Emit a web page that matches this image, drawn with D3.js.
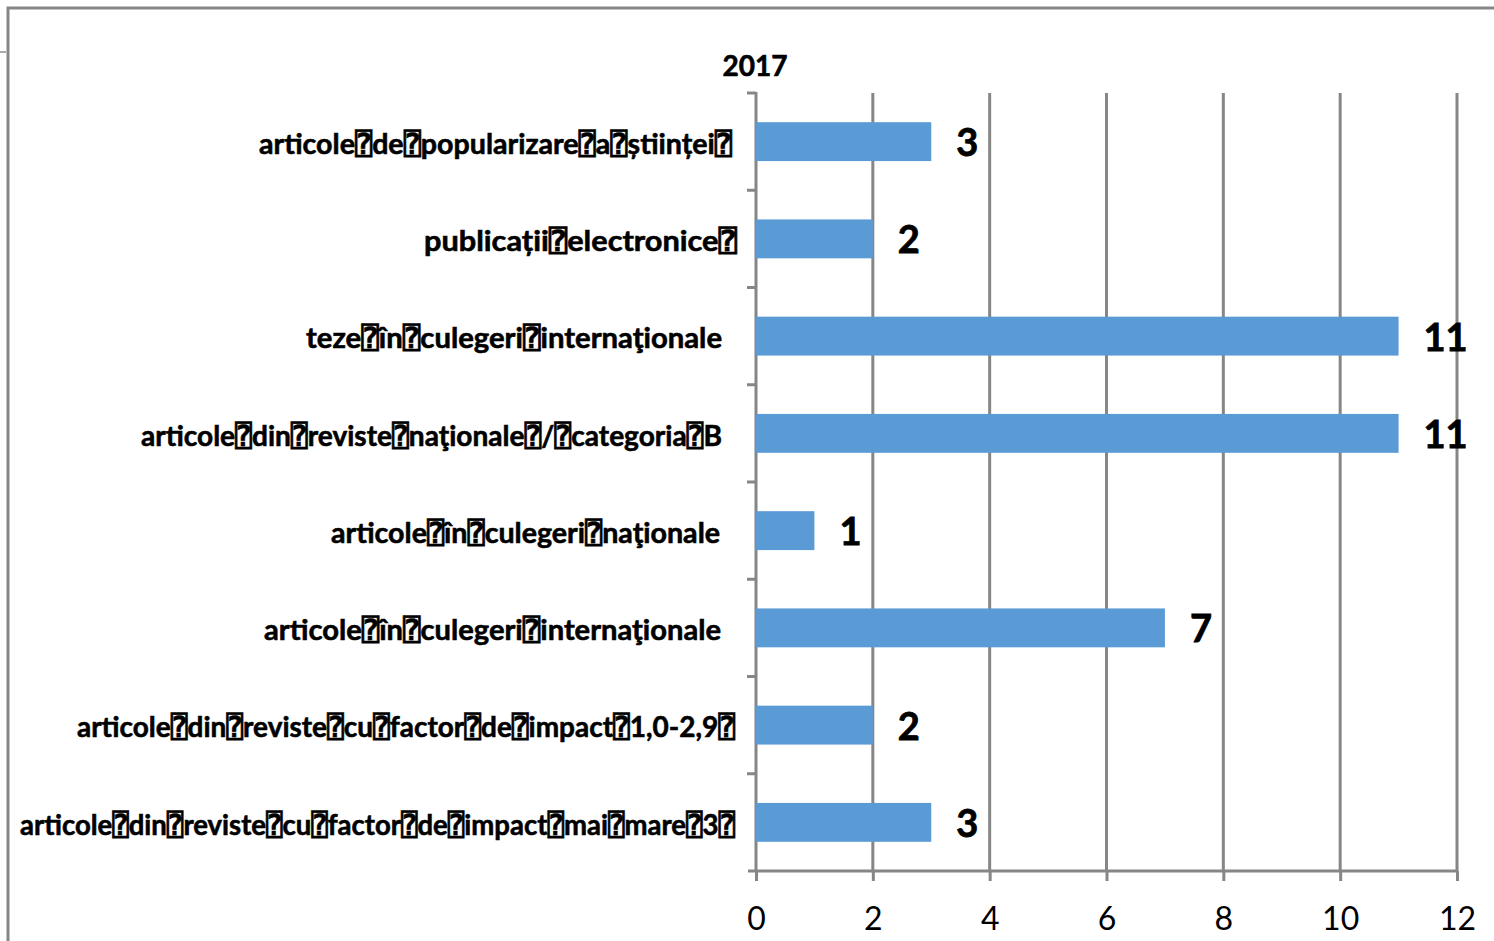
<!DOCTYPE html>
<html><head><meta charset="utf-8">
<script src="https://cdn.jsdelivr.net/npm/d3@7"></script>
<style>body{margin:0;background:#fff;}svg{display:block;}</style>
</head><body>
<svg id="c" width="1494" height="941"></svg>
<script>
const B = "\u2370";
const categories = [
  "articole" + B + "de" + B + "popularizare" + B + "a" + B + "științei" + B,
  "publicații" + B + "electronice" + B,
  "teze" + B + "în" + B + "culegeri" + B + "internaţionale",
  "articole" + B + "din" + B + "reviste" + B + "naţionale" + B + "/" + B + "categoria" + B + "B",
  "articole" + B + "în" + B + "culegeri" + B + "naţionale",
  "articole" + B + "în" + B + "culegeri" + B + "internaţionale",
  "articole" + B + "din" + B + "reviste" + B + "cu" + B + "factor" + B + "de" + B + "impact" + B + "1,0-2,9" + B,
  "articole" + B + "din" + B + "reviste" + B + "cu" + B + "factor" + B + "de" + B + "impact" + B + "mai" + B + "mare" + B + "3" + B
];
const values = [3, 2, 11, 11, 1, 7, 2, 3];
const xTicks = [0, 2, 4, 6, 8, 10, 12];
const title = "2017";
// label extents measured from reference (left edge of each label)
const labelLeft = [259, 424, 306, 141, 331, 264, 77, 20];
const labelRight = [732, 737, 722, 722, 720, 721, 735, 735];

const svg = d3.select("#c");
const gray = "#868686";
const x = d3.scaleLinear().domain([0, 12]).range([756, 1457]);
const y = d3.scaleBand().domain(categories).range([93, 871]).paddingInner(0.6).paddingOuter(0.3);

// outer frame
svg.append("path").attr("d", "M8,941V8H1494").attr("fill", "none").attr("stroke", gray).attr("stroke-width", 3);
svg.append("line").attr("x1", 0).attr("x2", 6).attr("y1", 52).attr("y2", 52).attr("stroke", "#aaa").attr("stroke-width", 2);

// grid lines
svg.append("g").selectAll("line").data(xTicks.slice(1)).join("line")
  .attr("x1", d => x(d)).attr("x2", d => x(d)).attr("y1", 93).attr("y2", 871)
  .attr("stroke", gray).attr("stroke-width", 3);

// bottom axis
const xAxis = svg.append("g").attr("transform", "translate(0,871)")
  .call(d3.axisBottom(x).tickValues(xTicks).tickSize(10).tickPadding(26).tickFormat(d3.format("d")));
xAxis.select(".domain").attr("d", "M748,0H1457").attr("stroke", gray).attr("stroke-width", 3);
xAxis.selectAll(".tick line").attr("stroke", gray).attr("stroke-width", 3);
xAxis.selectAll(".tick text").attr("font-family", "Lato, 'Open Sans', sans-serif").attr("font-size", 32).attr("fill", "#000").attr("dy", "0.71em");

// left axis line + ticks at band boundaries
svg.append("line").attr("x1", 756).attr("x2", 756).attr("y1", 92).attr("y2", 872).attr("stroke", gray).attr("stroke-width", 3);
const bounds = d3.range(categories.length).map(i => 93 + i * y.step());
svg.append("g").selectAll("line").data(bounds).join("line")
  .attr("x1", 747).attr("x2", 756).attr("y1", d => d).attr("y2", d => d)
  .attr("stroke", gray).attr("stroke-width", 3);

// bars
svg.append("g").selectAll("rect").data(values).join("rect")
  .attr("x", x(0)).attr("y", (d, i) => y(categories[i]))
  .attr("width", d => x(d) - x(0)).attr("height", y.bandwidth())
  .attr("fill", "#5B9BD5");

// value labels
svg.append("g").selectAll("text").data(values).join("text")
  .attr("x", d => x(d) + 25).attr("y", (d, i) => y(categories[i]) + y.bandwidth() / 2)
  .attr("dy", "0.38em")
  .attr("font-family", "Lato, 'Open Sans', sans-serif").attr("font-weight", "bold").attr("font-size", 38)
  .attr("stroke", "#000").attr("stroke-width", 0.8)
  .text(d => d);

// category labels
svg.append("g").selectAll("text").data(categories).join("text")
  .attr("x", (d, i) => labelLeft[i]).attr("y", d => y(d) + y.bandwidth() / 2)
  .attr("dy", "0.42em")
  .attr("textLength", (d, i) => labelRight[i] - labelLeft[i]).attr("lengthAdjust", "spacingAndGlyphs")
  .attr("font-family", "Lato, 'DejaVu Sans Mono', 'DejaVu Sans', sans-serif").attr("font-weight", "bold").attr("font-size", 29)
  .attr("stroke", "#000").attr("stroke-width", 0.6)
  .text(d => d);

// title
svg.append("text").attr("x", 755).attr("y", 76).attr("text-anchor", "middle")
  .attr("font-family", "Lato, 'Open Sans', sans-serif").attr("font-weight", "bold").attr("font-size", 28)
  .attr("stroke", "#000").attr("stroke-width", 0.6)
  .text(title);
</script>
</body></html>
